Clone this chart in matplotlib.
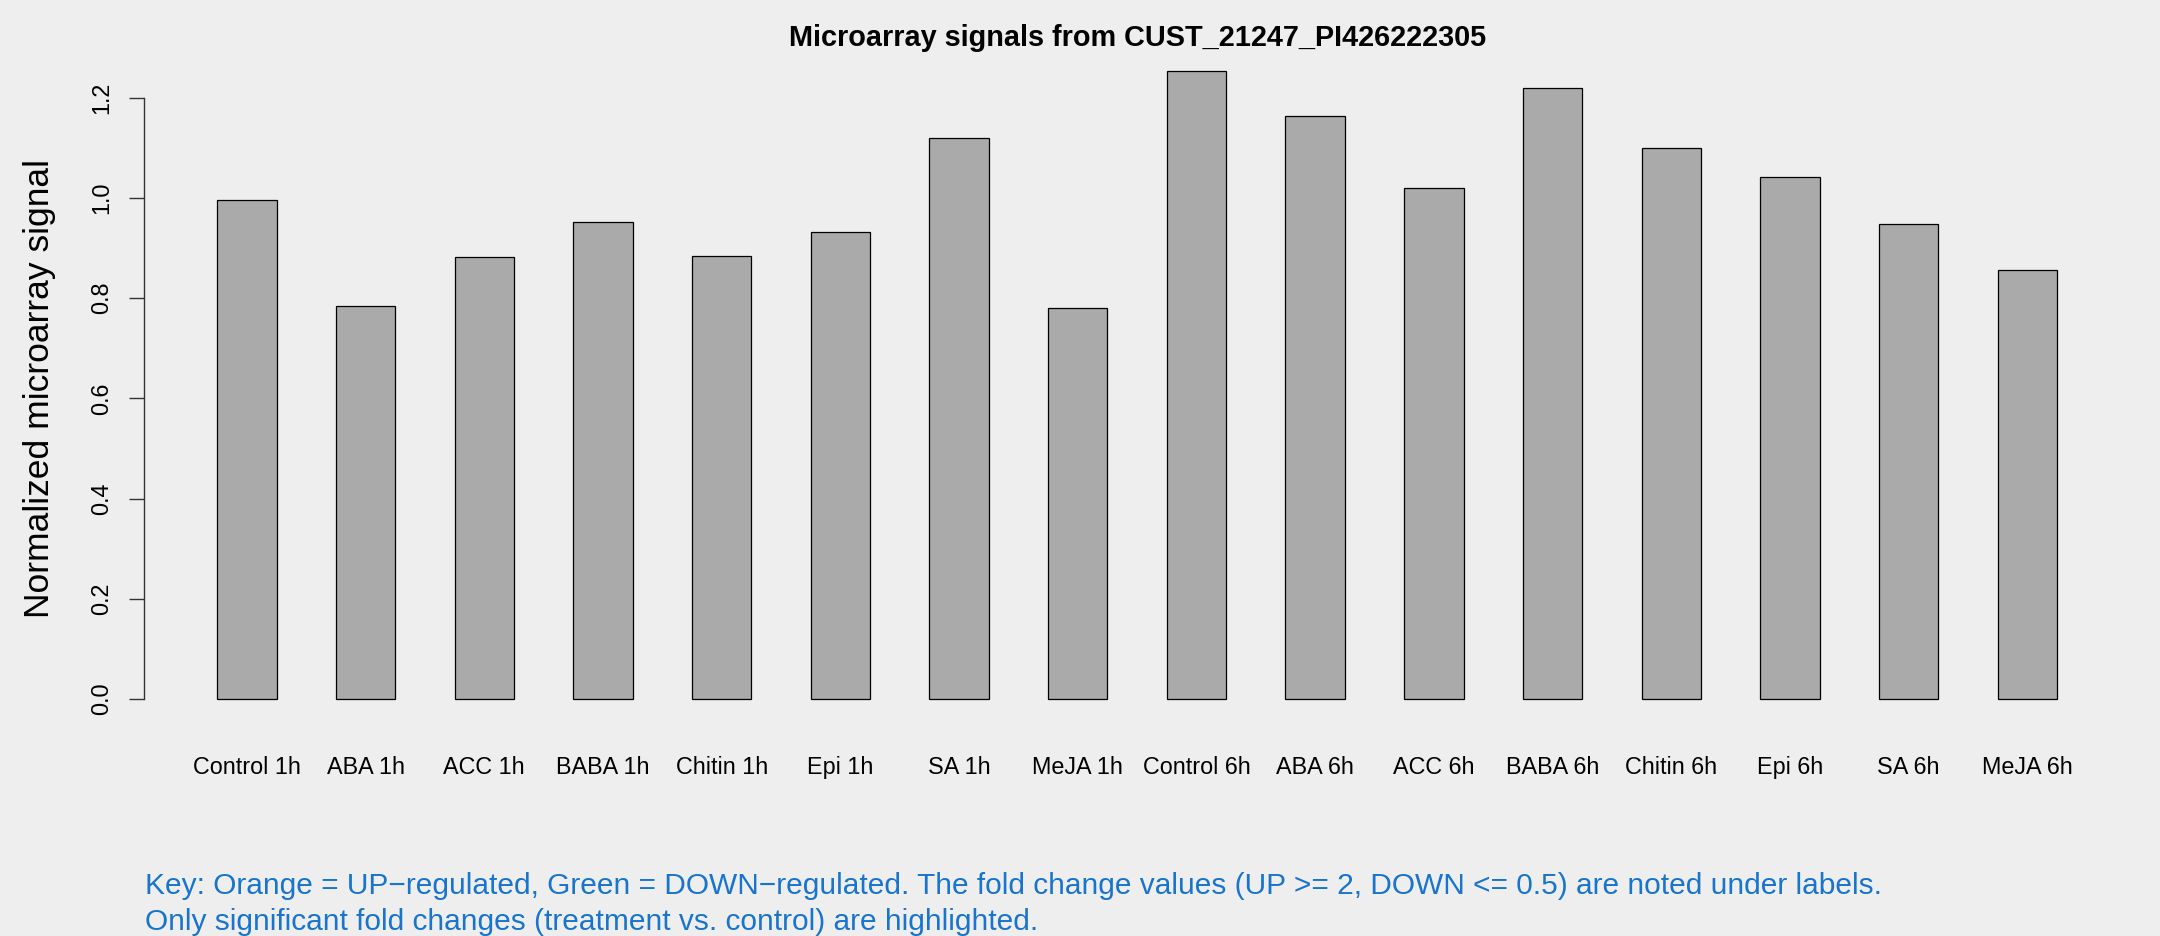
import matplotlib.pyplot as plt
import numpy as np

# dados
amostras = ["Control 1h", "ABA 1h", "ACC 1h", "BABA 1h", "Chitin 1h", "Epi 1h",
            "SA 1h", "MeJA 1h", "Control 6h", "ABA 6h", "ACC 6h", "BABA 6h",
            "Chitin 6h", "Epi 6h", "SA 6h", "MeJA 6h"]
sinal = [0.996, 0.785, 0.882, 0.953, 0.884, 0.932, 1.119, 0.780,
         1.253, 1.163, 1.021, 1.219, 1.099, 1.041, 0.949, 0.856]
y_ticks = [0.0, 0.2, 0.4, 0.6, 0.8, 1.0, 1.2]

titulo = "Microarray signals from CUST_21247_PI426222305"
rotulo_y = "Normalized microarray signal"
legenda = ("Key: Orange = UP\u2212regulated, Green = DOWN\u2212regulated. "
           "The fold change values (UP >= 2, DOWN <= 0.5) are noted under labels.\n"
           "Only significant fold changes (treatment vs. control) are highlighted.")

plt.rcParams['font.family'] = ['Liberation Sans', 'DejaVu Sans']

FUNDO = '#EEEEEE'
W, H = 2160, 936

fig = plt.figure(figsize=(W / 100, H / 100), dpi=100, facecolor=FUNDO)
ax = fig.add_axes([143.6 / W, 1 - 724 / H, (2130.6 - 143.6) / W, (724 - 46.2) / H])
ax.set_facecolor(FUNDO)

# barras como no barplot do R (width=1, space=1)
centros = 1.5 + 2 * np.arange(len(sinal))
ax.bar(centros, sinal, width=1.0, color='#AAAAAA', edgecolor='black', linewidth=0.9)

n = len(sinal)
x_min, x_max = 1, 2 * n
pad_x = 0.04 * (x_max - x_min)
ax.set_xlim(x_min - pad_x, x_max + pad_x)
y_max = max(sinal)
ax.set_ylim(-0.04 * y_max, y_max * 1.04)

for lado in ['top', 'right', 'bottom']:
    ax.spines[lado].set_visible(False)
ax.spines['left'].set_bounds(0, 1.2)
ax.spines['left'].set_color('#333333')
ax.spines['left'].set_linewidth(1.0)

ax.set_yticks(y_ticks)
ax.set_yticklabels([f"{v:.1f}" for v in y_ticks], rotation=90, va='center')
ax.tick_params(axis='y', length=10.8, width=1.0, color='#333333', pad=11, labelsize=16.8)

ax.set_xticks(centros)
ax.set_xticklabels(amostras)
ax.tick_params(axis='x', length=0, pad=23, labelsize=16.8)

fig.text(1138 / W, 1 - 38 / H, titulo, ha='center', va='center',
         fontsize=20.8, fontweight='bold')
fig.text(40 / W, 1 - 388 / H, rotulo_y, ha='center', va='center',
         rotation=90, fontsize=25.5)
fig.text(145 / W, 1 - 904 / H, legenda, ha='left', va='center',
         fontsize=21.5, color='#1874CD', linespacing=1.35)

fig.savefig("out.png", dpi=100, facecolor=FUNDO)
